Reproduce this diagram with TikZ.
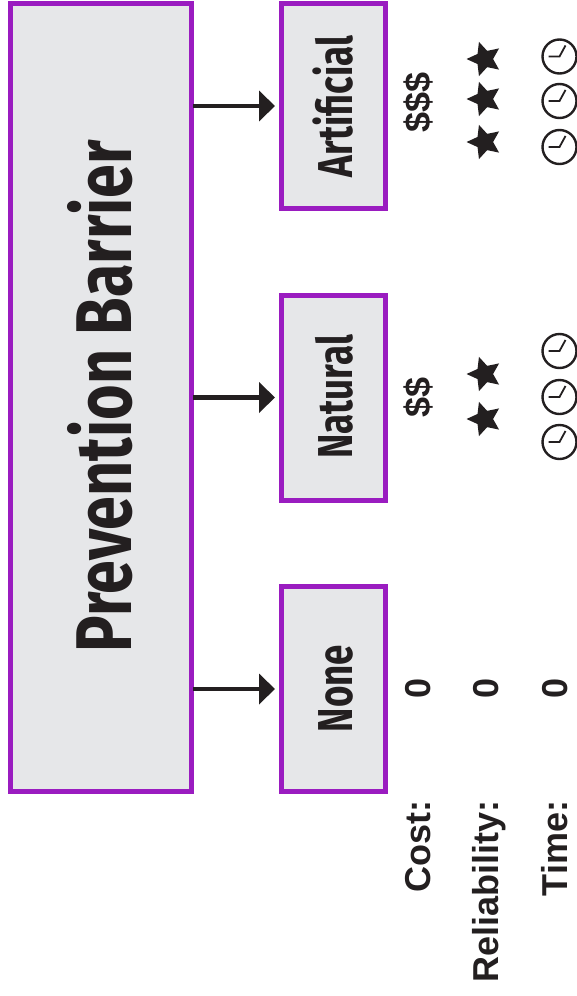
\documentclass[tikz,border=0pt]{standalone}
\usepackage{fontspec}
\setmainfont{Liberation Sans}
\newfontfamily\condfont[FakeStretch=0.75]{Fira Sans}
\newfontfamily\titlefont[FakeStretch=0.772]{Fira Sans}
\usetikzlibrary{shapes.geometric,arrows.meta}
\definecolor{purp}{HTML}{9A1CC0}
\definecolor{boxgray}{HTML}{E6E7E9}
\definecolor{ink}{HTML}{231F20}
\tikzset{
  x=1pt,y=-1pt,
  barbox/.style={draw=purp,line width=5pt,fill=boxgray,inner sep=0pt,outer sep=0pt,anchor=north west},
  cond/.style={rotate=90,anchor=base,inner sep=0pt,text=ink,font=\condfont\bfseries\fontsize{49}{49}\selectfont},
  title/.style={cond,font=\titlefont\bfseries\fontsize{79}{79}\selectfont},
  label/.style={rotate=90,anchor=base,inner sep=0pt,text=ink,font=\bfseries\fontsize{36}{36}\selectfont},
  rowlabel/.style={label,anchor=base east},
  flow/.style={draw=ink,line width=4.5pt,-{Triangle[length=16pt,width=30pt]},shorten >=6.5pt,shorten <=2pt},
  starmark/.style={star,star points=5,star point ratio=2.1,fill=ink,inner sep=0pt,minimum size=36pt,shape border rotate=90},
  clockface/.style={circle,draw=ink,line width=2.4pt,minimum size=34pt,inner sep=0pt},
  hand/.style={draw=ink,line width=1.8pt,line join=miter}
}
\newcommand{\clockat}[3]{%
  \node[clockface] (#1) at (#2,#3) {};
  \draw[hand] ([xshift=-11pt,yshift=0pt]#1.center) -- (#1.center) -- ([xshift=6pt,yshift=11pt]#1.center);
}
\begin{document}
\begin{tikzpicture}
\useasboundingbox (0,0) rectangle (577,996);
\fill[white] (0,0) rectangle (577,996);

\node[barbox,minimum width=180.5pt,minimum height=788pt] (main) at (10.5,3.5) {};
\node[barbox,minimum width=103.5pt,minimum height=205pt] (art) at (281.5,3.5) {};
\node[barbox,minimum width=103.5pt,minimum height=205pt] (nat) at (281.5,295) {};
\node[barbox,minimum width=103.5pt,minimum height=205pt] (non) at (281.5,586.5) {};

\node[title] (maint) at (131,396) {Prevention Barrier};
\node[cond] (artt) at (352,106.5) {Artificial};
\node[cond] (natt) at (352,397) {Natural};
\node[cond] (nont) at (352,688.5) {None};

\coordinate (m1) at (main.east |- art.west);
\coordinate (m2) at (main.east |- nat.west);
\coordinate (m3) at (main.east |- non.west);
\draw[flow] (m1) -- (art.west);
\draw[flow] (m2) -- (nat.west);
\draw[flow] (m3) -- (non.west);

\node[rowlabel] (cost) at (430,800.5) {Cost:};
\node[rowlabel] (rel) at (498,800.5) {Reliability:};
\node[rowlabel] (time) at (567,800.5) {Time:};

\node[label] (c0) at (430,688) {0};
\node[label] (r0) at (498,688) {0};
\node[label] (t0) at (567,688) {0};
\node[label] (c2) at (430,397) {\$\$};
\node[label] (c3) at (430,102) {\$\$\$};

\node[starmark] (s1) at (484.5,59) {};
\node[starmark] (s2) at (484.5,99) {};
\node[starmark] (s3) at (484.5,142) {};
\node[starmark] (s4) at (484.5,374) {};
\node[starmark] (s5) at (484.5,419) {};

\clockat{k1}{559.5}{56.5}
\clockat{k2}{559.5}{101}
\clockat{k3}{559.5}{147}
\clockat{k4}{559.5}{351}
\clockat{k5}{559.5}{397}
\clockat{k6}{559.5}{442}
\end{tikzpicture}
\end{document}
